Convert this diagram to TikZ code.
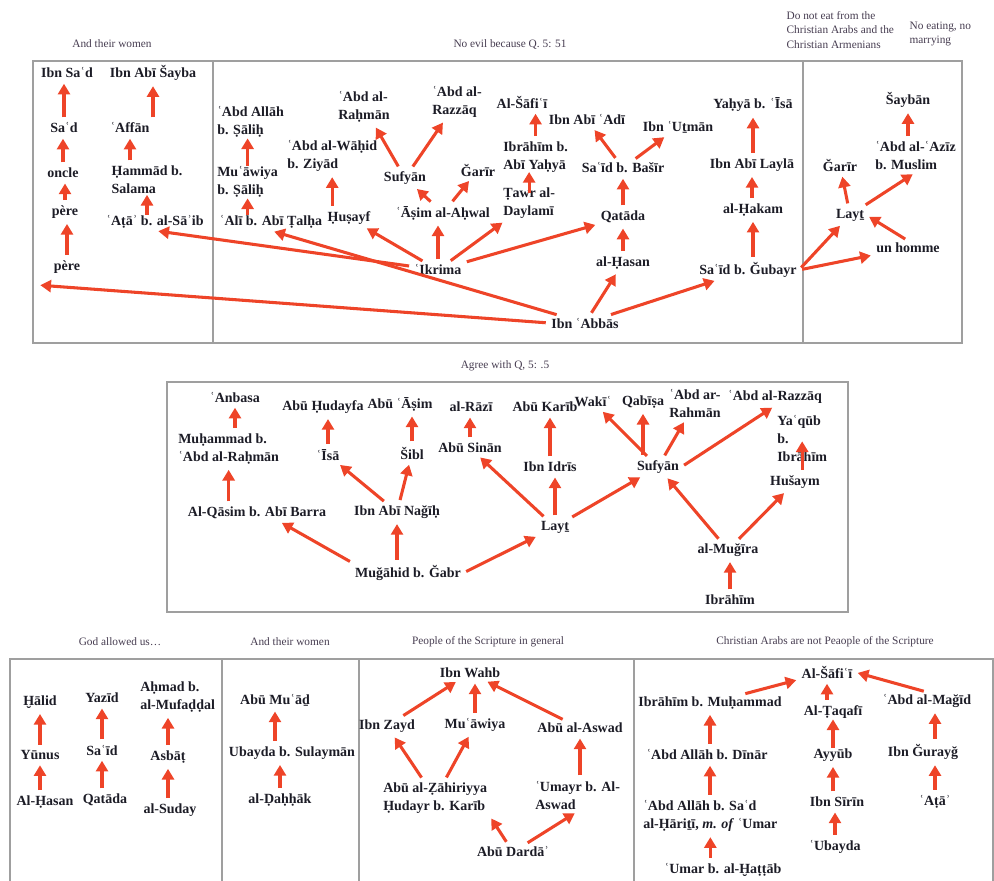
\documentclass[tikz,border=0pt]{standalone}
\usepackage{fontspec}
\setmainfont{Liberation Serif}
\usetikzlibrary{arrows.meta,calc}
\definecolor{arrowred}{RGB}{238,68,40}
\definecolor{namecol}{RGB}{28,28,38}
\definecolor{capcol}{RGB}{70,60,80}
\begin{document}
\begin{tikzpicture}[x=0.75pt,y=-0.75pt,%
% common options for the names:
person/.style = {font=\bfseries\fontsize{10.5}{13.5}\selectfont, text=namecol,
            align=left, inner sep=1.5pt},
% common options for the captions:
capt/.style = {font=\fontsize{8.5}{11}\selectfont, text=capcol, align=left, inner sep=1pt},
% common options for the arrows:
relay/.style = {draw=arrowred, line width=2.3pt, -{Triangle[length=8pt,width=9pt]},
            shorten <=2.5pt, shorten >=2.5pt},
% short arrows between close names:
overlap/.style = {shorten <=-1pt, shorten >=-1pt},
panel/.style = {draw=gray!75, line width=0.9pt}]
\useasboundingbox (0,0) rectangle (994,880);
% panels
\draw[panel] (33,61) rectangle (962,343);
\draw[panel] (213,61) -- (213,343);
\draw[panel] (803,61) -- (803,343);
\draw[panel] (167,382) rectangle (848,612);
\draw[panel] (10,659) rectangle (993,890);
\draw[panel] (222,659) -- (222,890);
\draw[panel] (359,659) -- (359,890);
\draw[panel] (634,659) -- (634,890);
% captions
\node[capt] (capwomen) at (112,44) {And their women};
\node[capt] (capevil) at (510,44) {No evil because Q. 5: 51};
\node[capt,anchor=west] (capeat) at (785,30) {Do not eat from the\\Christian Arabs and the\\Christian Armenians};
\node[capt,anchor=west] (capmarry) at (908,34) {No eating, no\\marrying};
\node[capt] (capagree) at (505,366) {Agree with Q, 5: .5};
\node[capt] (capgod) at (120,642) {God allowed us…};
\node[capt] (capwomentwo) at (290,642) {And their women};
\node[capt] (capscripture) at (488,642) {People of the Scripture in general};
\node[capt] (capchristian) at (825,642) {Christian Arabs are not Peaople of the Scripture};
% top left
\node[person] (ibnsad) at (67,73) {Ibn Saʿd};
\node[person] (ibnabisayba) at (153,73) {Ibn Abī Šayba};
\node[person] (sad) at (64,128) {Saʿd};
\node[person] (affan) at (130,128) {ʿAffān};
\node[person] (oncle) at (63,173) {oncle};
\node[person] (hammad) at (147,180) {Ḥammād b.\\Salama};
\node[person] (pere) at (65,212) {père};
\node[person] (ata) at (155,222) {ʿAṭāʾ b. al-Sāʾib};
\node[person] (peretwo) at (67,267) {père};
\coordinate (leftend) at (37,285);
% top middle
\node[person,anchor=west] (abdallah) at (215,122) {ʿAbd Allāh\\b. Ṣāliḥ};
\node[person,anchor=west] (muawiya) at (215,182) {Muʿāwiya\\b. Ṣāliḥ};
\node[person] (ali) at (271,222) {ʿAlī b. Abī Ṭalḥa};
\node[person,anchor=west] (wahid) at (285,156) {ʿAbd al-Wāḥid\\b. Ziyād};
\node[person] (husayf) at (349,218) {Ḥuṣayf};
\node[person] (rahman) at (364,107) {ʿAbd al-\\Raḥmān};
\node[person] (razzaq) at (457,102) {ʿAbd al-\\Razzāq};
\node[person] (sufyan) at (405,178) {Sufyān};
\node[person] (garir) at (478,170) {Ğarīr};
\node[person] (asim) at (443,213) {ʿĀṣim al-Aḥwal};
\node[person] (ikrima) at (438,270) {ʿIkrima};
\node[person] (safii) at (522,102) {Al-Šāfiʿī};
\node[person] (abiadi) at (587,120) {Ibn Abī ʿAdī};
\node[person] (utman) at (678,127) {Ibn ʿUṯmān};
\node[person,anchor=west] (ibrahim) at (501,157) {Ibrāhīm b.\\Abī Yaḥyā};
\node[person,anchor=west] (tawr) at (501,203) {Ṭawr al-\\Daylamī};
\node[person] (basir) at (623,168) {Saʿīd b. Bašīr};
\node[person] (qatada) at (623,217) {Qatāda};
\node[person] (hasan) at (623,263) {al-Ḥasan};
\node[person] (abbas) at (585,323) {Ibn ʿAbbās};
\node[person] (yahya) at (753,105) {Yaḥyā b. ʿĪsā};
\node[person] (layla) at (752,165) {Ibn Abī Laylā};
\node[person] (hakam) at (753,210) {al-Ḥakam};
\node[person] (gubayr) at (748,270) {Saʿīd b. Ğubayr};
% top right
\node[person] (sayban) at (908,100) {Šaybān};
\node[person,anchor=west] (aziz) at (873,156) {ʿAbd al-ʿAzīz\\b. Muslim};
\node[person] (garirtwo) at (840,165) {Ğarīr};
\node[person] (layt) at (850,215) {Layṯ};
\node[person] (homme) at (908,248) {un homme};
% top arrows
\draw[relay] (sad.north) -- (sad.north |- ibnsad.south);
\draw[relay] (oncle.north) -- (oncle.north |- sad.south);
\draw[relay] (pere.north) -- (pere.north |- oncle.south);
\draw[relay] (peretwo.north) -- (peretwo.north |- pere.south);
\draw[relay] (affan.north -| ibnabisayba) -- (ibnabisayba.south);
\draw[relay] (hammad.north -| affan) -- (affan.south);
\draw[relay,overlap] (ata.north -| hammad) -- (hammad.south);
\draw[relay] (abbas.west) -- (leftend);
\draw[relay] (ikrima) -- (ata.south);
\draw[relay] (abbas) -- (ali.south);
\draw[relay,overlap] (muawiya.north) -- (muawiya.north |- abdallah.south);
\draw[relay,overlap] (ali.north -| muawiya) -- (muawiya.south);
\draw[relay] (husayf.north -| wahid) -- (wahid.south);
\draw[relay] (ikrima) -- (husayf);
\draw[relay] (ikrima.north) -- (ikrima.north |- asim.south);
\draw[relay] (ikrima) -- (tawr);
\draw[relay] (ikrima) -- (qatada);
\draw[relay] (sufyan) -- (rahman);
\draw[relay] (sufyan) -- (razzaq);
\draw[relay] (asim) -- (sufyan);
\draw[relay] (asim) -- (garir);
\draw[relay] (ibrahim.north) -- (ibrahim.north |- safii.south);
\draw[relay,shorten <=-6pt,shorten >=-2pt] (tawr.north) -- (tawr.north |- ibrahim.south);
\draw[relay] (basir) -- (abiadi);
\draw[relay] (basir) -- (utman);
\draw[relay] (qatada.north) -- (qatada.north |- basir.south);
\draw[relay] (hasan.north) -- (hasan.north |- qatada.south);
\draw[relay] (abbas) -- (hasan);
\draw[relay] (abbas) -- (gubayr);
\draw[relay] (gubayr.north -| hakam) -- (hakam.south);
\draw[relay] (hakam.north -| layla) -- (layla.south);
\draw[relay] (layla.north -| yahya) -- (yahya.south);
\draw[relay] (gubayr.east) -- (layt);
\draw[relay] (gubayr.east) -- (homme);
\draw[relay] (homme.north) -- (layt.east);
\draw[relay] (layt) -- (garirtwo);
\draw[relay] (layt) -- (aziz.south);
\draw[relay] (aziz.north -| sayban) -- (sayban.south);
% middle
\node[person] (anbasa) at (235,397) {ʿAnbasa};
\node[person] (hudayfa) at (323,407) {Abū Ḥudayfa};
\node[person] (abuasim) at (400,404) {Abū ʿĀṣim};
\node[person] (razi) at (471,407) {al-Rāzī};
\node[person] (karib) at (545,407) {Abū Karīb};
\node[person,anchor=west] (muhammad) at (176,449) {Muḥammad b.\\ʿAbd al-Raḥmān};
\node[person] (isa) at (328,455) {ʿĪsā};
\node[person] (sibl) at (412,453) {Šibl};
\node[person] (sinan) at (470,448) {Abū Sinān};
\node[person] (qasim) at (257,513) {Al-Qāsim b. Abī Barra};
\node[person] (nagih) at (397,512) {Ibn Abī Nağīḥ};
\node[person] (mugahid) at (408,573) {Muğāhid b. Ğabr};
\node[person] (idris) at (550,467) {Ibn Idrīs};
\node[person] (laytmid) at (555,527) {Layṯ};
\node[person] (waki) at (593,402) {Wakīʿ};
\node[person] (qabisa) at (643,402) {Qabīṣa};
\node[person] (arrahman) at (695,403) {ʿAbd ar-\\Rahmān};
\node[person] (razzaqmid) at (775,397) {ʿAbd al-Razzāq};
\node[person,anchor=west] (yaqub) at (775,438) {Yaʿqūb\\b.\\Ibrāhīm};
\node[person] (sufyanmid) at (658,467) {Sufyān};
\node[person] (husaym) at (795,482) {Hušaym};
\node[person] (mugira) at (728,550) {al-Muğīra};
\node[person] (ibrahimmid) at (730,600) {Ibrāhīm};
\draw[relay] (qasim.north -| muhammad) -- (muhammad.south);
\draw[relay] (muhammad.north -| anbasa) -- (anbasa.south);
\draw[relay] (mugahid.north west) -- ($(qasim.south)+(22,0)$);
\draw[relay] (mugahid.north -| nagih) -- (nagih.south);
\draw[relay] (mugahid.east) -- (laytmid.south west);
\draw[relay] (nagih) -- (isa);
\draw[relay] (nagih) -- (sibl);
\draw[relay] (isa.north) -- (isa.north |- hudayfa.south);
\draw[relay] (sibl.north) -- (sibl.north |- abuasim.south);
\draw[relay] (sinan.north) -- (sinan.north |- razi.south);
\draw[relay] (laytmid) -- (sinan);
\draw[relay] (laytmid.north) -- (laytmid.north |- idris.south);
\draw[relay] (idris.north) -- (idris.north |- karib.south);
\draw[relay] (laytmid) -- (sufyanmid);
\draw[relay] (sufyanmid) -- (waki);
\draw[relay] (sufyanmid.north -| qabisa) -- (qabisa.south);
\draw[relay] (sufyanmid) -- (arrahman);
\draw[relay] (sufyanmid.east) -- (razzaqmid.south);
\draw[relay] (mugira) -- (sufyanmid);
\draw[relay] (mugira) -- (husaym);
\draw[relay] (yaqub.center |- husaym.north) -- (yaqub.center);
\draw[relay] (ibrahimmid.north) -- (ibrahimmid.north |- mugira.south);
% bottom left
\node[person] (halid) at (40,702) {Ḫālid};
\node[person] (yunus) at (40,755) {Yūnus};
\node[person] (hasanbot) at (45,802) {Al-Ḥasan};
\node[person] (yazid) at (102,698) {Yazīd};
\node[person] (said) at (102,750) {Saʿīd};
\node[person] (qatadabot) at (105,800) {Qatāda};
\node[person,anchor=west] (ahmad) at (138,697) {Aḥmad b.\\al-Mufaḍḍal};
\node[person] (asbat) at (168,757) {Asbāṭ};
\node[person] (suday) at (170,810) {al-Suday};
\node[person] (muad) at (275,700) {Abū Muʿāḏ};
\node[person] (ubayda) at (292,753) {Ubayda b. Sulaymān};
\node[person] (dahhak) at (280,800) {al-Ḍaḥḥāk};
\draw[relay] (yunus.north) -- (yunus.north |- halid.south);
\draw[relay] (hasanbot.north -| yunus) -- (yunus.south);
\draw[relay] (said.north) -- (said.north |- yazid.south);
\draw[relay] (qatadabot.north -| said) -- (said.south);
\draw[relay] (asbat.north) -- (asbat.north |- ahmad.south);
\draw[relay] (suday.north -| asbat) -- (asbat.south);
\draw[relay] (ubayda.north -| muad) -- (muad.south);
\draw[relay] (dahhak.north) -- (dahhak.north |- ubayda.south);
% bottom middle
\node[person] (wahb) at (470,673) {Ibn Wahb};
\node[person] (zayd) at (387,726) {Ibn Zayd};
\node[person] (muawiyabot) at (475,725) {Muʿāwiya};
\node[person] (aswad) at (580,728) {Abū al-Aswad};
\node[person,anchor=west] (zahiriyya) at (381,798) {Abū al-Ẓāhiriyya\\Ḥudayr b. Karīb};
\node[person,anchor=west] (umayr) at (533,795) {ʿUmayr b. Al-\\Aswad};
\node[person] (darda) at (513,852) {Abū Dardāʾ};
\draw[relay] (zayd) -- (wahb);
\draw[relay] (muawiyabot.north) -- (muawiyabot.north |- wahb.south);
\draw[relay] (aswad) -- (wahb);
\draw[relay] (zahiriyya) -- (zayd);
\draw[relay] (zahiriyya) -- (muawiyabot);
\draw[relay] (umayr.north -| aswad) -- (aswad.south);
\draw[relay] (darda) -- (zahiriyya.south east);
\draw[relay] (darda) -- (umayr.south);
% bottom right
\node[person] (safiibot) at (827,672) {Al-Šāfiʿī};
\node[person] (ibnmuhammad) at (710,703) {Ibrāhīm b. Muḥammad};
\node[person] (taqafi) at (833,712) {Al-Ṭaqafī};
\node[person] (magid) at (927,701) {ʿAbd al-Mağīd};
\node[person] (dinar) at (707,755) {ʿAbd Allāh b. Dīnār};
\node[person] (ayyub) at (833,755) {Ayyūb};
\node[person] (gurayg) at (923,752) {Ibn Ğurayğ};
\node[person,anchor=west] (sadbot) at (641,816) {ʿAbd Allāh b. Saʿd\\al-Ḥāriṯī, \textit{m. of} ʿUmar};
\node[person] (sirin) at (837,802) {Ibn Sīrīn};
\node[person] (atabot) at (935,802) {ʿAṭāʾ};
\node[person] (ubaydabot) at (835,847) {ʿUbayda};
\node[person] (umar) at (723,870) {ʿUmar b. al-Ḫaṭṭāb};
\draw[relay] (ibnmuhammad) -- (safiibot);
\draw[relay] (taqafi.north -| safiibot) -- (safiibot.south);
\draw[relay] (magid.north) -- (safiibot.east);
\draw[relay] (dinar.north -| ibnmuhammad) -- (ibnmuhammad.south);
\draw[relay] (sadbot.north -| ibnmuhammad) -- (dinar.south -| ibnmuhammad);
\draw[relay] (umar.north -| sadbot) -- (sadbot.south);
\draw[relay,overlap] (ayyub.north) -- (ayyub.north |- taqafi.south);
\draw[relay] (sirin.north -| ayyub) -- (ayyub.south);
\draw[relay] (ubaydabot.north) -- (ubaydabot.north |- sirin.south);
\draw[relay] (gurayg.north -| atabot) -- (atabot.north |- magid.south);
\draw[relay] (atabot.north) -- (atabot.north |- gurayg.south);
\end{tikzpicture}
\end{document}
